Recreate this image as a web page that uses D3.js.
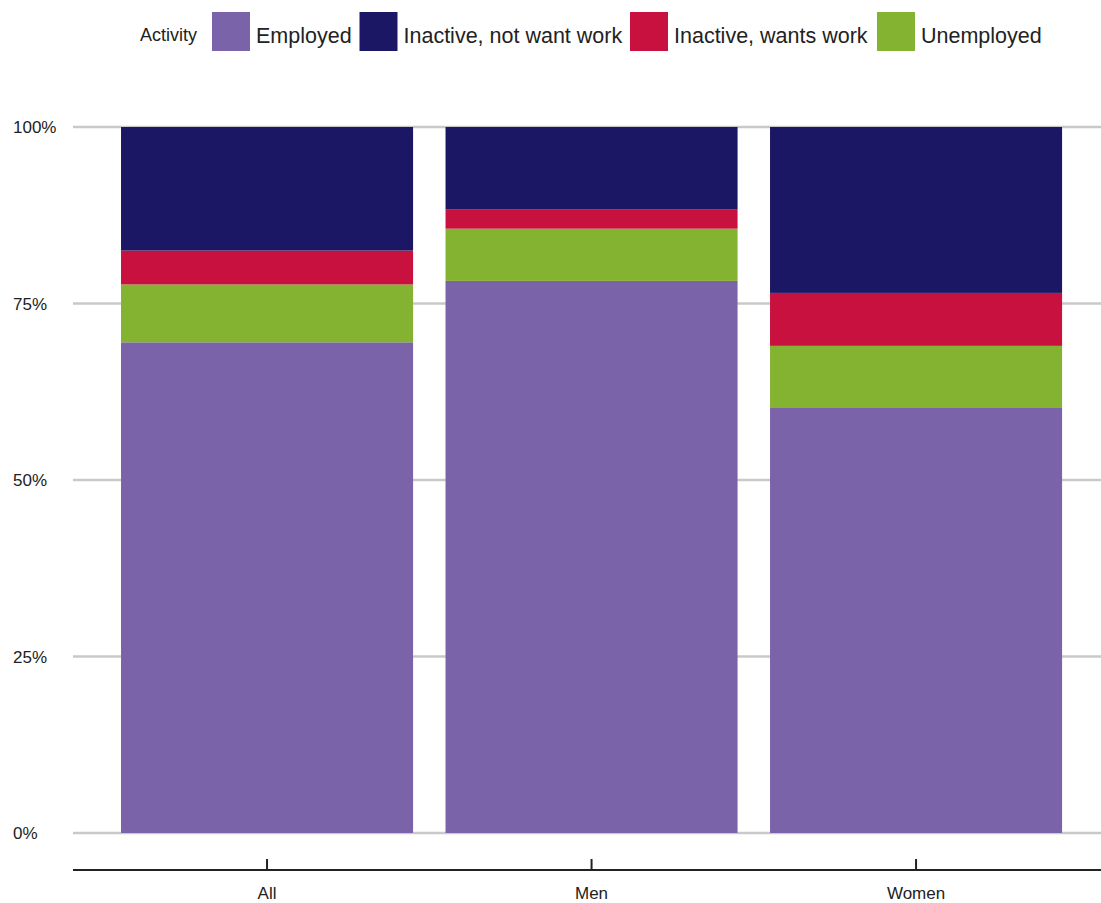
<!DOCTYPE html>
<html>
<head>
<meta charset="utf-8">
<script src="https://cdn.jsdelivr.net/npm/d3@7"></script>
<style>
  html, body { margin: 0; padding: 0; background: #fff; }
  svg { display: block; font-family: "Liberation Sans", Arial, sans-serif; }
</style>
</head>
<body>
<svg id="chart" width="1101" height="903"></svg>
<script>
const categories = ["All", "Men", "Women"];
const seriesNames = ["Employed", "Unemployed", "Inactive, wants work", "Inactive, not want work"];
const employed = [69.5, 78.2, 60.2];
const unemployed = [8.2, 7.4, 8.8];
const inactiveWants = [4.8, 2.7, 7.5];
const inactiveNotWant = [17.5, 11.7, 23.5];
const legendOrder = ["Employed", "Inactive, not want work", "Inactive, wants work", "Unemployed"];
const yTicks = [0, 25, 50, 75, 100];
const colors = {
  "Employed": "#7b63a9",
  "Inactive, not want work": "#1b1764",
  "Inactive, wants work": "#c8113f",
  "Unemployed": "#84b231"
};

const seriesValues = [employed, unemployed, inactiveWants, inactiveNotWant];
const rows = categories.map((c, i) => {
  const r = { category: c };
  seriesNames.forEach((s, j) => r[s] = seriesValues[j][i]);
  return r;
});

const svg = d3.select("#chart");
const x = d3.scaleBand().domain(categories).range([104.8, 1078.3]).paddingInner(0.1).paddingOuter(0.05);
const y = d3.scaleLinear().domain([0, 100]).range([833, 127]);

// gridlines
svg.append("g").selectAll("line").data(yTicks).join("line")
  .attr("x1", 73).attr("x2", 1101)
  .attr("y1", d => y(d)).attr("y2", d => y(d))
  .attr("stroke", "#c9c9c9").attr("stroke-width", 2.5);

// y labels
svg.append("g").selectAll("text").data(yTicks).join("text")
  .attr("x", 13).attr("y", d => y(d)).attr("dy", "0.36em")
  .attr("font-size", 17).attr("fill", "#222")
  .text(d => d + "%");

// bars
const stack = d3.stack().keys(seriesNames);
const stacked = stack(rows);
svg.append("g").selectAll("g").data(stacked).join("g")
  .attr("fill", d => colors[d.key])
  .selectAll("rect").data(d => d).join("rect")
  .attr("x", d => x(d.data.category))
  .attr("width", x.bandwidth())
  .attr("y", d => y(d[1]))
  .attr("height", d => y(d[0]) - y(d[1]));

// x axis
const xAxisG = svg.append("g").attr("transform", "translate(0,870)");
xAxisG.append("line").attr("x1", 73).attr("x2", 1101).attr("y1", 0).attr("y2", 0)
  .attr("stroke", "#222").attr("stroke-width", 2);
xAxisG.selectAll("line.tick").data(categories).join("line").attr("class", "tick")
  .attr("x1", d => x(d) + x.bandwidth() / 2).attr("x2", d => x(d) + x.bandwidth() / 2)
  .attr("y1", -11).attr("y2", 0).attr("stroke", "#222").attr("stroke-width", 2);
xAxisG.selectAll("text").data(categories).join("text")
  .attr("x", d => x(d) + x.bandwidth() / 2).attr("y", 29)
  .attr("text-anchor", "middle").attr("font-size", 17).attr("fill", "#222")
  .text(d => d);

// legend
const lg = svg.append("g");
lg.append("text").attr("x", 140).attr("y", 41).attr("font-size", 18).attr("fill", "#222").text("Activity");
const legendX = [212, 359.5, 630, 877];
const items = lg.selectAll("g.item").data(legendOrder).join("g").attr("class", "item")
  .attr("transform", (d, i) => `translate(${legendX[i]},12)`);
items.append("rect").attr("width", 38).attr("height", 39).attr("fill", d => colors[d]);
items.append("text").attr("x", 44).attr("y", 31).attr("font-size", 21.5).attr("fill", "#222").text(d => d);
</script>
</body>
</html>
